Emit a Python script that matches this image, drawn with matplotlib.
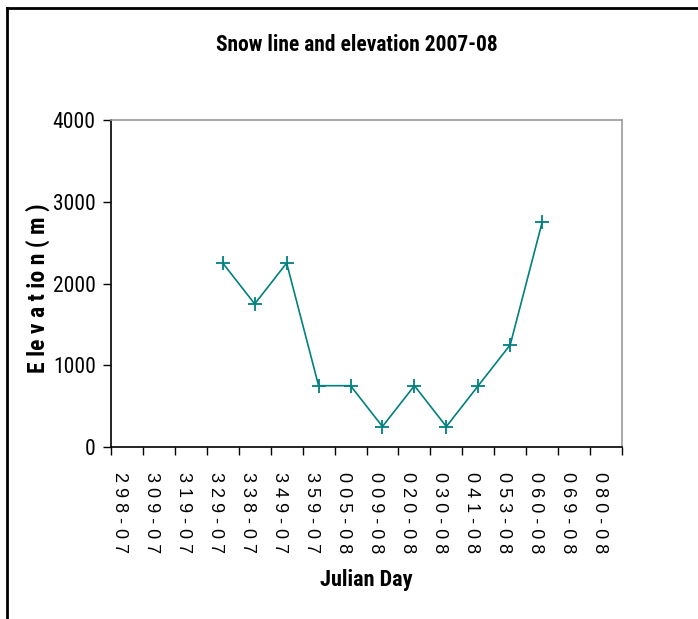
import numpy as np
import matplotlib
matplotlib.use("Agg")
import matplotlib.pyplot as plt
import matplotlib.transforms as mtransforms
from matplotlib.lines import Line2D

categories = ["298-07", "309-07", "319-07", "329-07", "338-07", "349-07", "359-07",
              "005-08", "009-08", "020-08", "030-08", "041-08", "053-08", "060-08",
              "069-08", "080-08"]
elevation = [np.nan, np.nan, np.nan, 2250, 1750, 2250, 750, 750, 250, 750, 250,
             750, 1250, 2750, np.nan, np.nan]
y_ticks = [0, 1000, 2000, 3000, 4000]

narrow = ["Roboto Condensed", "Archivo Narrow", "DejaVu Sans"]
narrow_bold = ["Roboto Condensed", "IBM Plex Sans Condensed", "DejaVu Sans"]
regular = ["Liberation Sans", "DejaVu Sans"]

W, H = 698, 619
fig = plt.figure(figsize=(W / 100, H / 100), dpi=100)
ax = fig.add_axes([111 / W, 1 - 447 / H, (622 - 111) / W, (447 - 120) / H])

x = np.arange(len(categories))
ax.plot(x, elevation, color="#008080", lw=1.2, marker="+", ms=10, mew=1.3)

ax.set_xlim(-0.5, len(categories) - 0.5)
ax.set_ylim(0, 4000)
ax.set_yticks(y_ticks)
ax.set_yticklabels([str(v) for v in y_ticks], family=narrow, fontsize=15.5)
ax.tick_params(axis="y", direction="out", length=6, width=1, pad=5, right=False)

ax.set_xticks(x)
ax.set_xticklabels([" ".join(c) for c in categories], rotation=270,
                   family=regular, fontsize=13, va="top", ha="center")
ax.tick_params(axis="x", which="major", length=0, pad=18)
ax.set_xticks(np.arange(-0.5, len(categories)), minor=True)
ax.tick_params(axis="x", which="minor", direction="out", length=6, width=1)
shift = mtransforms.ScaledTranslation(-7 / 100, 0, fig.dpi_scale_trans)
for lab in ax.get_xticklabels():
    lab.set_transform(lab.get_transform() + shift)

for s in ["top", "right"]:
    ax.spines[s].set_color("#9a9a9a")
    ax.spines[s].set_linewidth(1.2)
for s in ["left", "bottom"]:
    ax.spines[s].set_color("black")
    ax.spines[s].set_linewidth(1.2)

fig.text(357 / W, 1 - 45 / H, "Snow line and elevation 2007-08", family=narrow_bold,
         fontweight="bold", fontsize=15.5, ha="center", va="center")
fig.text(366 / W, 1 - 580 / H, "Julian Day", family=narrow_bold,
         fontweight="bold", fontsize=16, ha="center", va="center")
fig.text(38 / W, 1 - 288 / H, "E le v a t io n ( m )", family=narrow_bold,
         fontweight="bold", fontsize=17, ha="center", va="center", rotation=90)

# outer frame
fig.add_artist(Line2D([7 / W, 7 / W], [0, 1 - 8 / H], color="black", lw=2,
                      transform=fig.transFigure))
fig.add_artist(Line2D([7 / W, 1], [1 - 8 / H, 1 - 8 / H], color="black", lw=2,
                      transform=fig.transFigure))

fig.savefig("out.png", dpi=100)
